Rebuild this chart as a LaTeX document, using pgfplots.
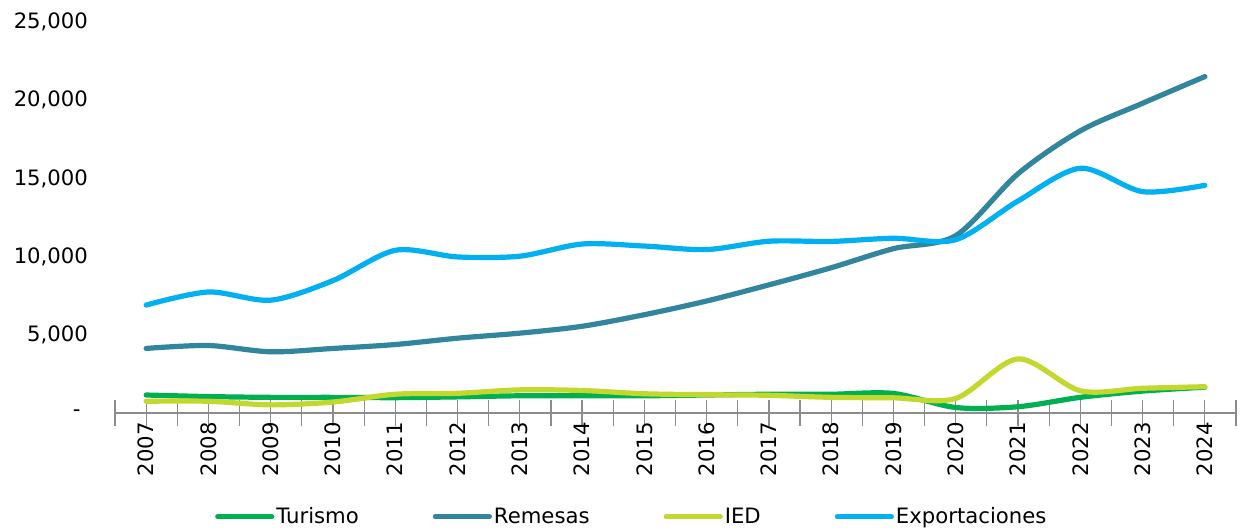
\documentclass[border=0pt]{standalone}
\usepackage{pgfplots}
\pgfplotsset{compat=1.18}
\usepackage{fontspec}
\setmainfont{DejaVu Sans}
\definecolor{turismo}{HTML}{00B050}
\definecolor{remesas}{HTML}{31859C}
\definecolor{ied}{HTML}{C3D82E}
\definecolor{expo}{HTML}{00B0F0}
\definecolor{axgray}{HTML}{8C8C8C}
\begin{document}
\begin{tikzpicture}
\begin{axis}[
  scale only axis,
  width=560.5pt, height=195.5pt,
  xmin=-0.5, xmax=17.5,
  ymin=0, ymax=25000,
  scaled y ticks=false,
  font=\fontsize{10.6pt}{12pt}\selectfont,
  axis x line*=bottom, axis y line*=left,
  x axis line style={draw=axgray, line width=0.6pt, -},
  y axis line style={draw=none},
  ytick={0,5000,10000,15000,20000,25000},
  yticklabels={{\makebox[7.5pt][l]{-}},{5,000},{10,000},{15,000},{20,000},{25,000}},
  ytick style={draw=none},
  yticklabel style={anchor=east, xshift=-3.5pt},
  xtick={-0.5,0.5,...,17.5},
  xticklabels={},
  major tick length=13pt,
  tick align=center,
  xtick style={draw=axgray, line width=0.6pt},
  extra x ticks={0,1,...,17},
  extra x tick labels={2007,2008,2009,2010,2011,2012,2013,2014,2015,2016,2017,2018,2019,2020,2021,2022,2023,2024},
  extra x tick style={tick style={draw=none}, tick label style={rotate=90, anchor=east}},
  xticklabel shift=-5.5pt,
  legend columns=4,
  legend style={at={(0.461,-0.2655)}, anchor=center, draw=none, fill=none,
    font=\fontsize{10.6pt}{12pt}\selectfont,
    nodes={inner sep=1pt},
    /tikz/every even column/.append style={column sep=36pt}},
  legend image code/.code={\draw[#1, line width=2.6pt, line cap=round] (0pt,0pt) -- (27pt,0pt);},
  every axis plot/.append style={line width=2.6pt, line cap=round, smooth, tension=0.5, mark=none},
]
\addplot[turismo] coordinates {(0,1150)(1,1050)(2,1000)(3,1000)(4,980)(5,1030)(6,1100)(7,1100)(8,1100)(9,1150)(10,1200)(11,1200)(12,1250)(13,350)(14,400)(15,1000)(16,1400)(17,1650)};
\addlegendentry{Turismo}
\addplot[remesas] coordinates {(0,4128)(1,4315)(2,3912)(3,4127)(4,4378)(5,4783)(6,5105)(7,5544)(8,6285)(9,7160)(10,8192)(11,9288)(12,10508)(13,11340)(14,15296)(15,18040)(16,19804)(17,21510)};
\addlegendentry{Remesas}
\addplot[ied] coordinates {(0,750)(1,750)(2,520)(3,700)(4,1200)(5,1260)(6,1480)(7,1440)(8,1230)(9,1170)(10,1130)(11,1000)(12,970)(13,930)(14,3460)(15,1420)(16,1580)(17,1680)};
\addlegendentry{IED}
\addplot[expo] coordinates {(0,6900)(1,7737)(2,7214)(3,8466)(4,10401)(5,9978)(6,10025)(7,10803)(8,10675)(9,10449)(10,10982)(11,10969)(12,11174)(13,11080)(14,13557)(15,15647)(16,14153)(17,14560)};
\addlegendentry{Exportaciones}
\end{axis}
\pgfresetboundingbox
\path[use as bounding box] (-57.5pt,-58pt) rectangle (564pt,206.5pt);
\end{tikzpicture}
\end{document}
